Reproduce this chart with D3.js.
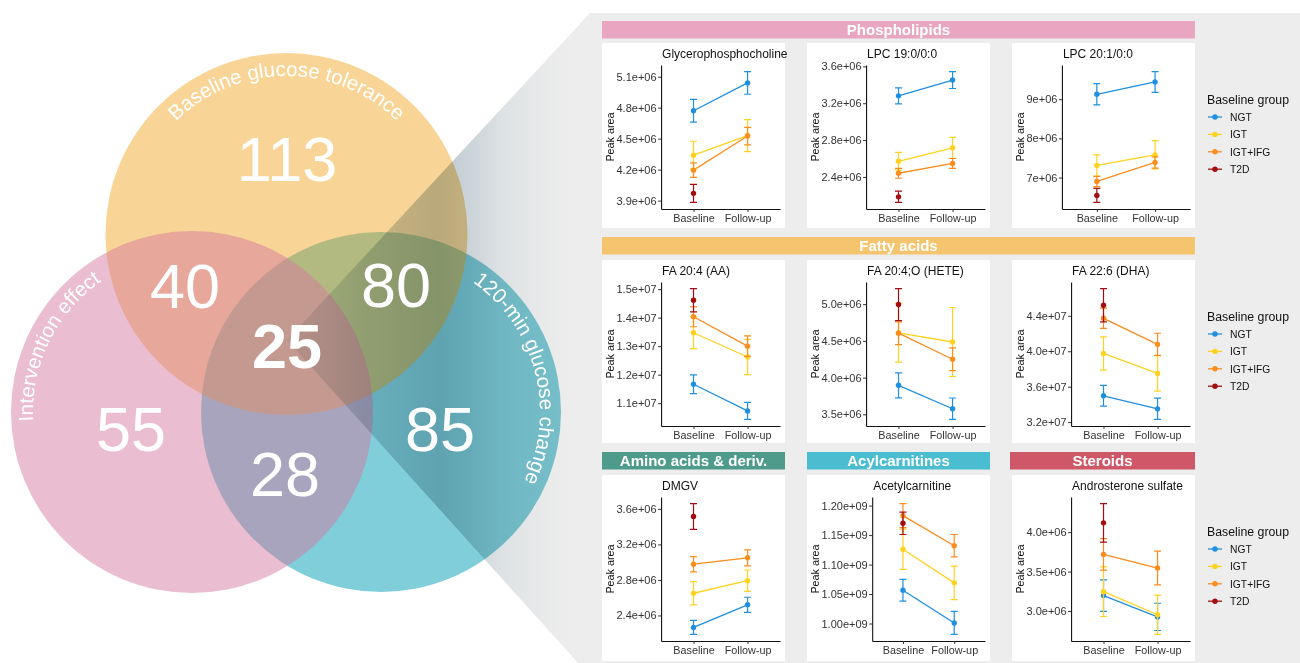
<!DOCTYPE html>
<html><head><meta charset="utf-8">
<script src="https://cdn.jsdelivr.net/npm/d3@7"></script>
<style>
body{margin:0;background:#fff;}
svg{display:block;font-family:"Liberation Sans",Arial,Helvetica,sans-serif;}
</style></head><body>
<svg id="fig" width="1300" height="663"></svg>
<script>
// ---------- Venn diagram ----------
const vennSetNames = ["120-min glucose change", "Baseline glucose tolerance", "Intervention effect"];
const vennSetColors = ["#009db3", "#f0a41b", "#d6789f"];
const vennRegionCounts = [113, 40, 80, 25, 55, 85, 28];
const vennRegionBold = [false, false, false, true, false, false, false];

// ---------- Metabolite panels ----------
const groups = ["NGT", "IGT", "IGT+IFG", "T2D"];
const groupColors = ["#1f8fe0", "#ffd21f", "#fb8c1e", "#a30d12"];
const timepoints = ["Baseline", "Follow-up"];

const classNames = ["Phospholipids", "Fatty acids", "Amino acids & deriv.", "Acylcarnitines", "Steroids"];
const classColors = ["#e8a6c1", "#f5c46e", "#4f9b8b", "#4bbdd0", "#cf5868"];

// mean and SE per group (rows) at Baseline / Follow-up (columns)
const gpcMean = [[4.77e6, 5.04e6], [4.34e6, 4.53e6], [4.195e6, 4.525e6], [3.97e6, null]];
const gpcErr  = [[0.11e6, 0.11e6], [0.135e6, 0.155e6], [0.07e6, 0.085e6], [0.088e6, null]];
const gpcTicks = [3.9e6, 4.2e6, 4.5e6, 4.8e6, 5.1e6];
const gpcTickLabels = ["3.9e+06", "4.2e+06", "4.5e+06", "4.8e+06", "5.1e+06"];

const lpc19Mean = [[3.28e6, 3.452e6], [2.57e6, 2.716e6], [2.44e6, 2.547e6], [2.184e6, null]];
const lpc19Err  = [[0.087e6, 0.092e6], [0.097e6, 0.113e6], [0.054e6, 0.053e6], [0.061e6, null]];
const lpc19Ticks = [2.4e6, 2.8e6, 3.2e6, 3.6e6];
const lpc19TickLabels = ["2.4e+06", "2.8e+06", "3.2e+06", "3.6e+06"];

const lpc20Mean = [[9.125e6, 9.44e6], [7.31e6, 7.58e6], [6.9e6, 7.385e6], [6.545e6, null]];
const lpc20Err  = [[0.27e6, 0.265e6], [0.27e6, 0.36e6], [0.13e6, 0.145e6], [0.18e6, null]];
const lpc20Ticks = [7e6, 8e6, 9e6];
const lpc20TickLabels = ["7e+06", "8e+06", "9e+06"];

const aaMean = [[1.1665e7, 1.073e7], [1.347e7, 1.262e7], [1.403e7, 1.30e7], [1.461e7, null]];
const aaErr  = [[0.033e7, 0.03e7], [0.056e7, 0.062e7], [0.035e7, 0.036e7], [0.041e7, null]];
const aaTicks = [1.1e7, 1.2e7, 1.3e7, 1.4e7, 1.5e7];
const aaTickLabels = ["1.1e+07", "1.2e+07", "1.3e+07", "1.4e+07", "1.5e+07"];

const heteMean = [[3.895e6, 3.576e6], [4.61e6, 4.485e6], [4.605e6, 4.25e6], [4.995e6, null]];
const heteErr  = [[0.17e6, 0.146e6], [0.4e6, 0.47e6], [0.155e6, 0.155e6], [0.218e6, null]];
const heteTicks = [3.5e6, 4.0e6, 4.5e6, 5.0e6];
const heteTickLabels = ["3.5e+06", "4.0e+06", "4.5e+06", "5.0e+06"];

const dhaMean = [[3.497e7, 3.35e7], [3.975e7, 3.75e7], [4.372e7, 4.078e7], [4.52e7, null]];
const dhaErr  = [[0.117e7, 0.12e7], [0.187e7, 0.2e7], [0.114e7, 0.125e7], [0.188e7, null]];
const dhaTicks = [3.2e7, 3.6e7, 4.0e7, 4.4e7];
const dhaTickLabels = ["3.2e+07", "3.6e+07", "4.0e+07", "4.4e+07"];

const dmgvMean = [[2.265e6, 2.52e6], [2.65e6, 2.792e6], [2.977e6, 3.049e6], [3.515e6, null]];
const dmgvErr  = [[0.079e6, 0.085e6], [0.13e6, 0.12e6], [0.086e6, 0.09e6], [0.145e6, null]];
const dmgvTicks = [2.4e6, 2.8e6, 3.2e6, 3.6e6];
const dmgvTickLabels = ["2.4e+06", "2.8e+06", "3.2e+06", "3.6e+06"];

const acMean = [[1.0565e9, 1.001e9], [1.126e9, 1.069e9], [1.183e9, 1.132e9], [1.17e9, null]];
const acErr  = [[0.0185e9, 0.0195e9], [0.034e9, 0.0285e9], [0.0205e9, 0.019e9], [0.019e9, null]];
const acTicks = [1.00e9, 1.05e9, 1.10e9, 1.15e9, 1.20e9];
const acTickLabels = ["1.00e+09", "1.05e+09", "1.10e+09", "1.15e+09", "1.20e+09"];

const andMean = [[3.195e6, 2.925e6], [3.245e6, 2.952e6], [3.718e6, 3.545e6], [4.118e6, null]];
const andErr  = [[0.2e6, 0.173e6], [0.315e6, 0.25e6], [0.2e6, 0.215e6], [0.245e6, null]];
const andTicks = [3.0e6, 3.5e6, 4.0e6];
const andTickLabels = ["3.0e+06", "3.5e+06", "4.0e+06"];

// ---------- layout ----------
const svg = d3.select("#fig");
const defs = svg.append("defs");

const vennCircles = [
  {cx: 381, cy: 412, r: 180, op: 0.5},
  {cx: 286.5, cy: 234, r: 181, op: 0.46},
  {cx: 192, cy: 412, r: 181, op: 0.49}
];
const regionPos = [[287, 181], [185, 308], [396, 307], [287, 368], [131, 451], [440, 451], [285, 496]];

const vg = svg.append("g");
vg.selectAll("circle").data(vennCircles).join("circle")
  .attr("cx", d => d.cx).attr("cy", d => d.cy).attr("r", d => d.r)
  .attr("fill", (d, i) => vennSetColors[i]).attr("fill-opacity", d => d.op);

// gray backdrop for the panel grid and the connecting wedge
const grad = defs.append("linearGradient").attr("id", "wedgeGrad")
  .attr("gradientUnits", "userSpaceOnUse").attr("x1", 287).attr("y1", 0).attr("x2", 590).attr("y2", 0);
[[0, "#eef1f2"], [0.25, "#d0d9de"], [0.5, "#bfcad0"], [0.6, "#cad3d8"], [0.72, "#dfe3e5"], [0.9, "#ececec"], [1, "#ededed"]]
  .forEach(s => grad.append("stop").attr("offset", s[0]).attr("stop-color", s[1]));

svg.append("rect").attr("x", 590).attr("y", 13).attr("width", 710).attr("height", 650).attr("fill", "#ededed");
svg.append("path")
  .attr("d", "M287,340 L590,13 L590,663 L578,663 Z")
  .attr("fill", "url(#wedgeGrad)").style("mix-blend-mode", "multiply");

// region counts
svg.append("g").selectAll("text").data(vennRegionCounts).join("text")
  .attr("x", (d, i) => regionPos[i][0]).attr("y", (d, i) => regionPos[i][1])
  .attr("text-anchor", "middle").attr("fill", "#fff")
  .attr("font-size", 63).attr("font-weight", (d, i) => vennRegionBold[i] ? "bold" : "normal")
  .text(d => d);

// curved set labels
const labelArcs = [
  {c: 0, angle: 75.5, r: 159},
  {c: 1, angle: 0, r: 158},
  {c: 2, angle: -64, r: 159}
];
function pt(cx, cy, r, deg) {
  const a = deg * Math.PI / 180;
  return [cx + r * Math.sin(a), cy - r * Math.cos(a)];
}
labelArcs.forEach((l, i) => {
  const c = vennCircles[l.c];
  const p0 = pt(c.cx, c.cy, l.r, l.angle - 88), p1 = pt(c.cx, c.cy, l.r, l.angle + 88);
  defs.append("path").attr("id", "arc" + i)
    .attr("d", `M${p0[0]},${p0[1]} A${l.r},${l.r} 0 0 1 ${p1[0]},${p1[1]}`);
  svg.append("text").attr("fill", "#fff").attr("font-size", 20.5)
    .append("textPath").attr("href", "#arc" + i).attr("startOffset", "50%")
    .attr("text-anchor", "middle").text(vennSetNames[l.c]);
});

// ---------- class headers ----------
const headers = [
  {cls: 0, x: 602, y: 21, w: 593},
  {cls: 1, x: 602, y: 237, w: 593},
  {cls: 2, x: 602, y: 452, w: 183},
  {cls: 3, x: 807, y: 452, w: 183},
  {cls: 4, x: 1010, y: 452, w: 185}
];
const hg = svg.append("g");
headers.forEach(h => {
  hg.append("rect").attr("x", h.x).attr("y", h.y).attr("width", h.w).attr("height", 17.5)
    .attr("fill", classColors[h.cls]);
  hg.append("text").attr("x", h.x + h.w / 2).attr("y", h.y + 14.3).attr("text-anchor", "middle")
    .attr("fill", "#fff").attr("font-weight", "bold").attr("font-size", 15).text(classNames[h.cls]);
});

// ---------- panels ----------
const panels = [
  {title: "Glycerophosphocholine", mean: gpcMean, err: gpcErr, ticks: gpcTicks, labels: gpcTickLabels, x0: 602, y0: 43, h: 185},
  {title: "LPC 19:0/0:0", mean: lpc19Mean, err: lpc19Err, ticks: lpc19Ticks, labels: lpc19TickLabels, x0: 807, y0: 43, h: 185},
  {title: "LPC 20:1/0:0", mean: lpc20Mean, err: lpc20Err, ticks: lpc20Ticks, labels: lpc20TickLabels, x0: 1012, y0: 43, h: 185},
  {title: "FA 20:4 (AA)", mean: aaMean, err: aaErr, ticks: aaTicks, labels: aaTickLabels, x0: 602, y0: 260, h: 183},
  {title: "FA 20:4;O (HETE)", mean: heteMean, err: heteErr, ticks: heteTicks, labels: heteTickLabels, x0: 807, y0: 260, h: 183},
  {title: "FA 22:6 (DHA)", mean: dhaMean, err: dhaErr, ticks: dhaTicks, labels: dhaTickLabels, x0: 1012, y0: 260, h: 183},
  {title: "DMGV", mean: dmgvMean, err: dmgvErr, ticks: dmgvTicks, labels: dmgvTickLabels, x0: 602, y0: 475, h: 186},
  {title: "Acetylcarnitine", mean: acMean, err: acErr, ticks: acTicks, labels: acTickLabels, x0: 807, y0: 475, h: 186},
  {title: "Androsterone sulfate", mean: andMean, err: andErr, ticks: andTicks, labels: andTickLabels, x0: 1012, y0: 475, h: 186}
];

const tickFont = 11;
function drawPanel(p) {
  const g = svg.append("g");
  g.append("rect").attr("x", p.x0).attr("y", p.y0).attr("width", 183).attr("height", p.h).attr("fill", "#fff");

  const probe = g.append("text").attr("font-size", tickFont);
  let maxW = 0;
  p.labels.forEach(l => { probe.text(l); maxW = Math.max(maxW, probe.node().getComputedTextLength()); });
  probe.remove();

  const left = p.x0 + 15 + maxW + 4, right = p.x0 + 178;
  const top = p.y0 + 22, bottom = p.y0 + 166;

  let lo = Infinity, hi = -Infinity;
  p.mean.forEach((row, i) => row.forEach((m, j) => {
    if (m == null) return;
    lo = Math.min(lo, m - p.err[i][j]); hi = Math.max(hi, m + p.err[i][j]);
  }));
  const pad = (hi - lo) * 0.05;
  const y = d3.scaleLinear().domain([lo - pad, hi + pad]).range([bottom, top]);
  const x = d3.scalePoint().domain(timepoints).range([left, right]).padding(0.6);

  const ya = g.append("g").attr("transform", `translate(${left},0)`)
    .call(d3.axisLeft(y).tickValues(p.ticks).tickFormat((d, i) => p.labels[i]).tickSize(3).tickSizeOuter(0).tickPadding(1.5));
  const xa = g.append("g").attr("transform", `translate(0,${bottom})`)
    .call(d3.axisBottom(x).tickSize(3).tickSizeOuter(0).tickPadding(2));
  [ya, xa].forEach(a => {
    a.select(".domain").attr("stroke", "#111").attr("stroke-width", 1.1);
    a.selectAll(".tick line").attr("stroke", "#333");
    a.selectAll(".tick text").attr("fill", "#333").attr("font-size", tickFont)
      .attr("font-family", "Liberation Sans, Arial, sans-serif");
  });
  xa.selectAll(".tick text").attr("font-size", 10.8);

  g.append("text").attr("x", left + 1).attr("y", p.y0 + 15).attr("font-size", 12).attr("fill", "#111").text(p.title);
  g.append("text").attr("transform", `translate(${p.x0 + 12},${(top + bottom) / 2}) rotate(-90)`)
    .attr("text-anchor", "middle").attr("font-size", 10.8).attr("fill", "#111").text("Peak area");

  // lines
  p.mean.forEach((row, i) => {
    if (row[0] == null || row[1] == null) return;
    g.append("line").attr("x1", x(timepoints[0])).attr("y1", y(row[0]))
      .attr("x2", x(timepoints[1])).attr("y2", y(row[1]))
      .attr("stroke", groupColors[i]).attr("stroke-width", 1.3);
  });
  // error bars and points
  const cap = 3.5;
  p.mean.forEach((row, i) => row.forEach((m, j) => {
    if (m == null) return;
    const cx = x(timepoints[j]), e = p.err[i][j];
    const y1 = y(m - e), y2 = y(m + e);
    const col = groupColors[i];
    g.append("path").attr("d", `M${cx},${y1}V${y2}M${cx - cap},${y1}H${cx + cap}M${cx - cap},${y2}H${cx + cap}`)
      .attr("stroke", col).attr("stroke-width", 1.2).attr("fill", "none");
    g.append("circle").attr("cx", cx).attr("cy", y(m)).attr("r", 2.7).attr("fill", col);
  }));
}
panels.forEach(drawPanel);

// ---------- legends ----------
const legendTops = [43, 260, 475];
legendTops.forEach(t => {
  const lg = svg.append("g").attr("transform", `translate(1207,${t})`);
  lg.append("text").attr("x", 0).attr("y", 61).attr("font-size", 12.3).attr("fill", "#111").text("Baseline group");
  groups.forEach((gname, i) => {
    const yy = 78 + i * 17.4;
    lg.append("line").attr("x1", 1).attr("x2", 15).attr("y1", yy - 4).attr("y2", yy - 4)
      .attr("stroke", groupColors[i]).attr("stroke-width", 1.3);
    lg.append("circle").attr("cx", 8).attr("cy", yy - 4).attr("r", 2.7).attr("fill", groupColors[i]);
    lg.append("text").attr("x", 23).attr("y", yy).attr("font-size", 10.3).attr("fill", "#111").text(gname);
  });
});
</script>
</body></html>
